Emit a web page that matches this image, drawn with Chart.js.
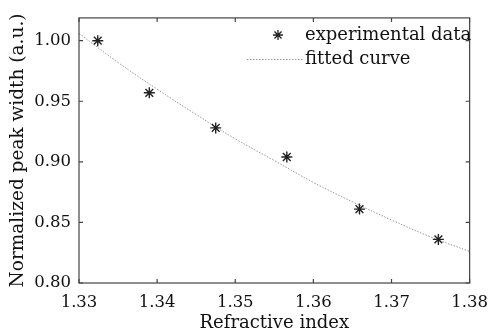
<!DOCTYPE html>
<html>
<head>
<meta charset="utf-8">
<script src="https://cdn.jsdelivr.net/npm/chart.js@4/dist/chart.umd.min.js"></script>
<style>
  html, body { margin: 0; padding: 0; background: #fff; }
  #wrap { width: 498px; height: 334px; }
</style>
</head>
<body>
<div id="wrap"><canvas id="grafico" width="498" height="334"></canvas></div>
<script>
// misure sperimentali
const indiceMisure = [1.3324, 1.3390, 1.3475, 1.3566, 1.3659, 1.3760];
const larghezzaMisure = [1.000, 0.957, 0.928, 0.904, 0.861, 0.836];

// curva di fit
const indiceFit = [1.330, 1.335, 1.340, 1.345, 1.350, 1.355, 1.360, 1.365, 1.370, 1.375, 1.380];
const larghezzaFit = [1.006, 0.982, 0.960, 0.939, 0.919, 0.901, 0.883, 0.867, 0.852, 0.838, 0.826];

const tickX = [1.33, 1.34, 1.35, 1.36, 1.37, 1.38];
const tickY = [0.80, 0.85, 0.90, 0.95, 1.00];

const fonte = "'DejaVu Serif', serif";
const nero = "#111";

const coppie = (xs, ys) => xs.map((x, i) => ({ x: x, y: ys[i] }));

// cornice con tacche verso l'interno su tutti i lati
const cornice = {
    id: "cornice",
    afterDatasetsDraw(chart) {
        const { ctx, chartArea: a, scales } = chart;
        const tacca = 4;
        ctx.save();
        ctx.strokeStyle = "#444";
        ctx.lineWidth = 1.2;
        ctx.strokeRect(a.left, a.top, a.right - a.left, a.bottom - a.top);
        ctx.beginPath();
        tickX.forEach(v => {
            const px = scales.x.getPixelForValue(v);
            ctx.moveTo(px, a.bottom); ctx.lineTo(px, a.bottom - tacca);
            ctx.moveTo(px, a.top); ctx.lineTo(px, a.top + tacca);
        });
        tickY.forEach(v => {
            const py = scales.y.getPixelForValue(v);
            ctx.moveTo(a.left, py); ctx.lineTo(a.left + tacca, py);
            ctx.moveTo(a.right, py); ctx.lineTo(a.right - tacca, py);
        });
        ctx.stroke();
        ctx.restore();
    }
};

// legenda dentro il grafico, in alto a destra
const legenda = {
    id: "legenda",
    afterDraw(chart) {
        const ctx = chart.ctx;
        const xt = 305;
        ctx.save();
        ctx.font = "18px " + fonte;
        ctx.fillStyle = nero;
        ctx.textBaseline = "middle";
        ctx.fillText("experimental data", xt, 35);
        ctx.fillText("fitted curve", xt, 59);

        // stella
        ctx.strokeStyle = "#222";
        ctx.lineWidth = 1.3;
        ctx.beginPath();
        const r = 5;
        for (let k = 0; k < 4; k++) {
            const ang = k * Math.PI / 4;
            ctx.moveTo(278 - r * Math.cos(ang), 35 - r * Math.sin(ang));
            ctx.lineTo(278 + r * Math.cos(ang), 35 + r * Math.sin(ang));
        }
        ctx.stroke();

        // linea punteggiata
        ctx.strokeStyle = "#999";
        ctx.lineWidth = 1;
        ctx.setLineDash([1.5, 1.5]);
        ctx.beginPath();
        ctx.moveTo(247, 59.5);
        ctx.lineTo(303, 59.5);
        ctx.stroke();
        ctx.restore();
    }
};

new Chart(document.getElementById("grafico"), {
    type: "scatter",
    data: {
        datasets: [
            {
                label: "fitted curve",
                data: coppie(indiceFit, larghezzaFit),
                showLine: true,
                tension: 0.4,
                borderColor: "#999",
                borderWidth: 1,
                borderDash: [1.5, 1.5],
                pointRadius: 0,
                order: 2
            },
            {
                label: "experimental data",
                data: coppie(indiceMisure, larghezzaMisure),
                pointStyle: "star",
                pointRadius: 5.5,
                borderColor: "#222",
                borderWidth: 1.4,
                backgroundColor: "#222",
                order: 1
            }
        ]
    },
    options: {
        responsive: false,
        animation: false,
        layout: { padding: { left: 0, right: 17, top: 11, bottom: 0 } },
        plugins: {
            legend: { display: false },
            tooltip: { enabled: false }
        },
        scales: {
            x: {
                type: "linear",
                min: 1.33,
                max: 1.38,
                afterFit: s => { s.height = 51; },
                afterBuildTicks: s => { s.ticks = tickX.map(v => ({ value: v })); },
                grid: { display: false, drawTicks: false },
                border: { display: false },
                ticks: {
                    padding: 10,
                    color: nero,
                    font: { family: fonte, size: 16.5 },
                    callback: v => v.toFixed(2)
                },
                title: {
                    display: true,
                    text: "Refractive index",
                    color: nero,
                    font: { family: fonte, size: 18 },
                    padding: { top: 0, bottom: 0 }
                }
            },
            y: {
                type: "linear",
                min: 0.80,
                max: 1.0188,
                afterFit: s => { s.width = 79; },
                afterBuildTicks: s => { s.ticks = tickY.map(v => ({ value: v })); },
                grid: { display: false, drawTicks: false },
                border: { display: false },
                ticks: {
                    padding: 8,
                    color: nero,
                    font: { family: fonte, size: 16.5 },
                    callback: v => v.toFixed(2)
                },
                title: {
                    display: true,
                    text: "Normalized peak width (a.u.)",
                    color: nero,
                    font: { family: fonte, size: 18.5 },
                    padding: { top: 7, bottom: 0 }
                }
            }
        }
    },
    plugins: [cornice, legenda]
});
</script>
</body>
</html>
